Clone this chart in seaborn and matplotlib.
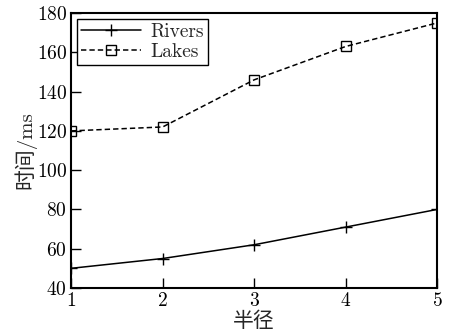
import matplotlib
matplotlib.use("Agg")
import matplotlib.pyplot as plt
import seaborn as sns
import pandas as pd

radius = [1, 2, 3, 4, 5]
rivers_ms = [50, 55, 62, 71, 80]
lakes_ms = [120, 122, 146, 163, 175]
series_names = ["Rivers", "Lakes"]
y_ticks = [40, 60, 80, 100, 120, 140, 160, 180]

rivers = pd.DataFrame({"radius": radius, "time": rivers_ms})
lakes = pd.DataFrame({"radius": radius, "time": lakes_ms})

sns.set_style("ticks")
plt.rcParams["font.family"] = ["cmr10", "Noto Sans CJK SC"]
plt.rcParams["axes.formatter.use_mathtext"] = True
plt.rcParams["font.size"] = 14

fig = plt.figure(figsize=(4.53, 3.36), dpi=100)
ax = fig.add_axes([0.157, 0.143, 0.808, 0.818])

sns.lineplot(data=rivers, x="radius", y="time", color="black", marker="+",
             markersize=8, markeredgecolor="black", markeredgewidth=1.0,
             linewidth=1.1, label=series_names[0], ax=ax)
sns.lineplot(data=lakes, x="radius", y="time", color="black", marker="s",
             markersize=6.5, markerfacecolor="none", markeredgecolor="black",
             markeredgewidth=1.0, linewidth=1.1, linestyle=(0, (3.5, 2)),
             label=series_names[1], ax=ax)

ax.set_xlim(1, 5)
ax.set_ylim(40, 180)
ax.set_xticks(radius)
ax.set_yticks(y_ticks)
ax.tick_params(direction="in", length=7, width=1, labelsize=14, colors="black", pad=3)
ax.tick_params(axis="x", pad=3)
for s in ax.spines.values():
    s.set_linewidth(1.5)
    s.set_color("black")

ax.set_xlabel("半径", fontsize=15, labelpad=1)
ax.set_ylabel("时间/ms", fontsize=15, labelpad=0)

leg = ax.legend(loc="upper left", fontsize=14, frameon=True, fancybox=False,
                edgecolor="black", borderaxespad=0.3, handlelength=3.1,
                borderpad=0.2, labelspacing=0.1, handletextpad=0.5)
leg.get_frame().set_linewidth(1.0)
leg.get_frame().set_alpha(1)

fig.savefig("out.png", dpi=100)
